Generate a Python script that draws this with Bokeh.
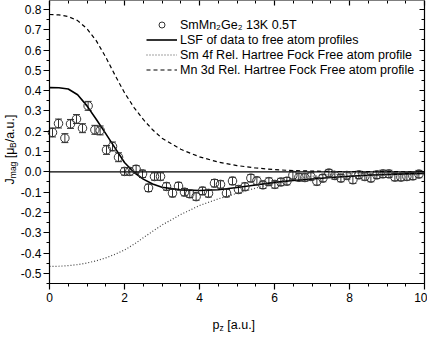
from bokeh.plotting import figure
from bokeh.models import (FixedTicker, PrintfTickFormatter, LinearAxis, Whisker,
                          TeeHead, ColumnDataSource, Legend, LegendItem, Label)
from bokeh.embed import file_html
from bokeh.resources import INLINE
import math

# ---- data ----
pz_data = [0.08, 0.24, 0.41, 0.56, 0.72, 0.88, 1.03, 1.21, 1.35, 1.52, 1.68, 1.84,
           2.00, 2.14, 2.31, 2.48, 2.64, 2.80, 2.96, 3.12, 3.28, 3.44, 3.60, 3.74,
           3.91, 4.08, 4.24, 4.40, 4.56, 4.72, 4.88, 5.04, 5.21, 5.37, 5.53, 5.69,
           5.85, 6.01, 6.17, 6.33, 6.49, 6.65, 6.81, 6.97, 7.13, 7.29, 7.45, 7.61,
           7.77, 7.93, 8.09, 8.25, 8.41, 8.57, 8.73, 8.89, 9.05, 9.21, 9.37, 9.53,
           9.69, 9.85]
jmag_data = [0.194, 0.238, 0.166, 0.236, 0.260, 0.215, 0.325, 0.207, 0.204, 0.108, 0.125, 0.072,
             0.002, 0.002, 0.013, -0.010, -0.079, -0.023, -0.023, -0.072, -0.105, -0.070, -0.100, -0.108,
             -0.122, -0.094, -0.106, -0.056, -0.062, -0.105, -0.045, -0.087, -0.073, -0.031, -0.044, -0.064,
             -0.048, -0.062, -0.050, -0.046, -0.017, -0.027, -0.028, -0.023, -0.047, -0.031, -0.006, -0.018,
             -0.031, -0.018, -0.039, -0.015, -0.023, -0.031, -0.015, -0.010, -0.010, -0.026, -0.026, -0.023,
             -0.020, -0.011]
jmag_err = [0.022] * 12 + [0.018] * 50

curve_pz = [0.0, 0.25, 0.5, 0.75, 1.0, 1.25, 1.5, 1.75, 2.0, 2.25, 2.5, 2.75, 3.0,
            3.5, 4.0, 4.5, 5.0, 5.5, 6.0, 6.5, 7.0, 7.5, 8.0, 8.5, 9.0, 9.5, 10.0]
lsf_fit = [0.415, 0.414, 0.408, 0.380, 0.325, 0.258, 0.188, 0.117, 0.046, -0.002, -0.036, -0.060, -0.076,
           -0.089, -0.092, -0.088, -0.077, -0.065, -0.052, -0.043, -0.035, -0.028, -0.022, -0.017, -0.013,
           -0.010, -0.008]
sm4f_profile = [-0.466, -0.465, -0.462, -0.457, -0.449, -0.438, -0.424, -0.406, -0.385, -0.357, -0.325,
                -0.293, -0.262, -0.210, -0.166, -0.133, -0.106, -0.080, -0.055, -0.035, -0.022, -0.014,
                -0.009, -0.006, -0.004, -0.003, -0.002]
mn3d_profile = [0.775, 0.773, 0.765, 0.745, 0.705, 0.645, 0.565, 0.475, 0.390, 0.318, 0.258, 0.207,
                0.166, 0.111, 0.074, 0.048, 0.031, 0.019, 0.011, 0.006, 0.004, 0.002, 0.0015, 0.001,
                0.0007, 0.0005, 0.0003]

x_ticks = [0, 2, 4, 6, 8, 10]
x_minor = [i * 0.5 for i in range(21)]
y_ticks = [-0.5, -0.4, -0.3, -0.2, -0.1, 0.0, 0.1, 0.2, 0.3, 0.4, 0.5, 0.6, 0.7, 0.8]
y_minor = [round(-0.55 + i * 0.05, 2) for i in range(29)]
x_lim = (0.0, 10.0)
y_lim = (-0.55, 0.844)

legend_labels = ["SmMn\u2082Ge\u2082 13K 0.5T",
                 "LSF of data to free atom profiles",
                 "Sm 4f Rel. Hartree Fock Free atom profile",
                 "Mn 3d Rel. Hartree Fock Free atom profile"]

FONT = "Liberation Sans"

# layout: the frame fills the canvas; the axis box sits inside it at fixed locations
W, H = 427, 333
BOX_L, BOX_R, BOX_B = 49, 424, 283          # canvas px of the axis box edges (top = 0)
sx_per = (BOX_R - BOX_L) / (x_lim[1] - x_lim[0])
sy_per = BOX_B / (y_lim[1] - y_lim[0])
XS = x_lim[0] - BOX_L / sx_per
XE = x_lim[1] + (W - BOX_R) / sx_per
YS = y_lim[0] - (H - BOX_B) / sy_per
YE = y_lim[1]

p = figure(width=W, height=H, x_range=(XS, XE), y_range=(YS, YE),
           output_backend="svg", toolbar_location=None,
           min_border_left=0, min_border_right=0, min_border_top=0, min_border_bottom=0)
p.grid.visible = False
p.outline_line_color = None

xt = FixedTicker(ticks=x_ticks, minor_ticks=x_minor)
yt = FixedTicker(ticks=y_ticks, minor_ticks=y_minor)

bottom = p.xaxis[0]
left = p.yaxis[0]
bottom.ticker = xt
bottom.formatter = PrintfTickFormatter(format="%d")
bottom.fixed_location = y_lim[0]
bottom.bounds = x_lim
left.ticker = yt
left.formatter = PrintfTickFormatter(format="%.1f")
left.fixed_location = x_lim[0]
left.bounds = y_lim

for ax in (bottom, left):
    ax.axis_line_width = 1.2
    ax.major_tick_line_width = 1.2
    ax.minor_tick_line_width = 1.0
    ax.major_tick_in = 0
    ax.major_tick_out = 6
    ax.minor_tick_in = 0
    ax.minor_tick_out = 3
    ax.major_label_text_font = FONT
    ax.major_label_text_font_size = "12px"
    ax.major_label_text_color = "black"
bottom.major_label_standoff = 3
left.major_label_standoff = 2

top = LinearAxis(ticker=xt, fixed_location=y_lim[1], bounds=x_lim,
                 major_label_overrides={t: "" for t in x_ticks},
                 major_label_text_font_size="1px", major_label_standoff=0,
                 major_tick_in=5, major_tick_out=0, minor_tick_in=3, minor_tick_out=0,
                 axis_line_width=1.2, major_tick_line_width=1.2)
right = LinearAxis(ticker=yt, fixed_location=x_lim[1], bounds=y_lim,
                   major_label_overrides={t: "" for t in y_ticks},
                   major_label_text_font_size="1px", major_label_standoff=0,
                   major_tick_in=5, major_tick_out=0, minor_tick_in=3, minor_tick_out=0,
                   axis_line_width=1.2, major_tick_line_width=1.2)
p.add_layout(top, "above")
p.add_layout(right, "right")

# zero reference line across the axis box
p.line(list(x_lim), [0, 0], line_color="black", line_width=1.3)

r_mn = p.line(curve_pz, mn3d_profile, line_color="black", line_width=1.2, line_dash="4 3")
r_sm = p.line(curve_pz, sm4f_profile, line_color="#444444", line_width=1.2, line_dash="1 2")
r_lsf = p.line(curve_pz, lsf_fit, line_color="black", line_width=1.6)

src = ColumnDataSource(dict(x=pz_data, y=jmag_data,
                            upper=[a + b for a, b in zip(jmag_data, jmag_err)],
                            lower=[a - b for a, b in zip(jmag_data, jmag_err)]))
p.add_layout(Whisker(base="x", upper="upper", lower="lower", source=src,
                     line_color="#333333", line_width=1,
                     upper_head=TeeHead(size=7, line_color="#333333", line_width=1),
                     lower_head=TeeHead(size=7, line_color="#333333", line_width=1)))
r_pts = p.scatter("x", "y", source=src, size=8.5, marker="circle", fill_alpha=0,
                  line_color="#333333", line_width=1)

legend = Legend(items=[LegendItem(label=legend_labels[0], renderers=[r_pts]),
                       LegendItem(label=legend_labels[1], renderers=[r_lsf]),
                       LegendItem(label=legend_labels[2], renderers=[r_sm]),
                       LegendItem(label=legend_labels[3], renderers=[r_mn])],
                location=(146, H - 77), glyph_width=31, glyph_height=15, label_height=15,
                label_standoff=3, spacing=0, padding=0, margin=0,
                border_line_alpha=0, background_fill_alpha=0,
                label_text_font=FONT, label_text_font_size="12.5px", label_text_color="black")
p.add_layout(legend)

# page-pixel -> data helpers for placing the composed axis titles (page = canvas + 8)
def dx(px):
    return XS + (px - 8) / sx_per
def dy(py):
    return YE - (py - 8) / sy_per

def lab(text, px, py, size, angle=0.0):
    p.add_layout(Label(x=dx(px), y=dy(py), text=text,
                       text_font=FONT, text_font_size=size, text_color="black",
                       angle=angle, text_align="left", text_baseline="alphabetic"))

# x title: p_z [a.u.]
lab("p", 220, 332, "12.5px")
lab("z", 227, 335, "8.5px")
lab("[a.u.]", 234.8, 332, "12.5px")

# y title: J_mag [mu_B/a.u.]
a = math.pi / 2
lab("J", 17, 192, "12.5px", a)
lab("mag", 20, 185.7, "8.5px", a)
lab("[\u03bc", 17, 165.7, "12.5px", a)
lab("B", 20, 155.5, "8.5px", a)
lab("/a.u.]", 17, 149.8, "12.5px", a)

open("out.html", "w").write(file_html(p, INLINE))
